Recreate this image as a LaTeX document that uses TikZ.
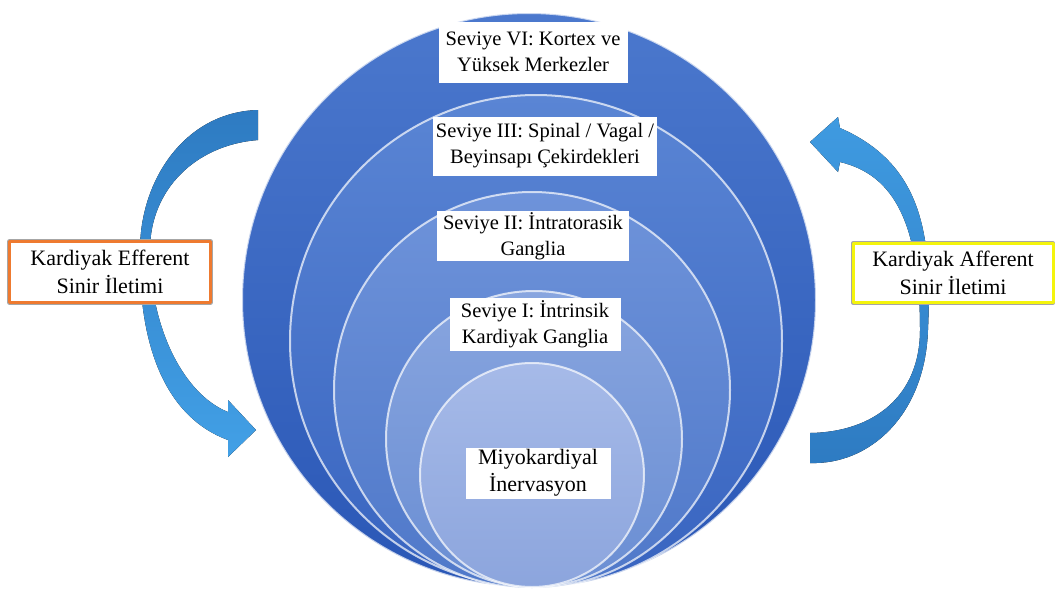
\documentclass[tikz,border=0pt]{standalone}
\usepackage{fontspec}
\setmainfont{Liberation Serif}
\definecolor{ringonetop}{HTML}{4B78CD}
\definecolor{ringonebot}{HTML}{2A57B6}
\definecolor{ringtwotop}{HTML}{5A85D4}
\definecolor{ringtwobot}{HTML}{3864C0}
\definecolor{ringthreetop}{HTML}{6E93DA}
\definecolor{ringthreebot}{HTML}{4F78C9}
\definecolor{ringfourtop}{HTML}{88A5DF}
\definecolor{ringfourbot}{HTML}{6A8ED3}
\definecolor{ringfivetop}{HTML}{A6BAE8}
\definecolor{ringfivebot}{HTML}{8CA5DD}
\definecolor{arrowdark}{HTML}{2E7BC2}
\definecolor{arrowlight}{HTML}{42A0E6}
\definecolor{efferentorange}{HTML}{EE7A30}
\definecolor{afferentyellow}{HTML}{F4F40C}
\begin{document}
\begin{tikzpicture}[x=1pt, y=-1pt, line join=round, line cap=round,
  ring/.style={draw=white, draw opacity=0.7, line width=2pt},
  levelbox/.style={fill=white, align=center, inner sep=0pt, font=\fontsize{20.5}{26}\selectfont},
  sidebox/.style={fill=white, align=center, inner sep=0pt, line width=3pt,
    preaction={draw=gray!70, line width=4.5pt}, font=\fontsize{22}{28}\selectfont}]
\useasboundingbox (0,0) rectangle (1055,590);
% nested circles, all touching at the bottom
\path[ring, top color=ringonetop, bottom color=ringonebot] (529,300) circle (287pt);
\path[ring, top color=ringtwotop, bottom color=ringtwobot] (536,341) circle (246pt);
\path[ring, top color=ringthreetop, bottom color=ringthreebot] (532,390) circle (198pt);
\path[ring, top color=ringfourtop, bottom color=ringfourbot] (534,439) circle (148pt);
\path[ring, top color=ringfivetop, bottom color=ringfivebot] (532,475) circle (112pt);
% level labels
\node[levelbox, minimum width=189pt, minimum height=61pt] (kortex) at (533,52) {Seviye VI: Kortex ve\\Yüksek Merkezler};
\node[levelbox, minimum width=224pt, minimum height=59pt] (spinal) at (545,146) {Seviye III: Spinal / Vagal /\\Beyinsapı Çekirdekleri};
\node[levelbox, minimum width=192pt, minimum height=50pt] (intratorasik) at (533,236) {Seviye II: İntratorasik\\Ganglia};
\node[levelbox, minimum width=171pt, minimum height=53pt] (intrinsik) at (535,324) {Seviye I: İntrinsik\\Kardiyak Ganglia};
\node[levelbox, minimum width=145pt, minimum height=51pt, font=\fontsize{22}{27}\selectfont] (miyokard) at (538,473) {Miyokardiyal\\İnervasyon};
% curved arrows
\fill[top color=arrowdark, bottom color=arrowlight]
  (258,110) .. controls (185,112) and (140,180) .. (140,250)
  .. controls (138,350) and (168,418) .. (228,440) -- (228,457) -- (256,430) -- (228,400) -- (228,412)
  .. controls (185,395) and (150,330) .. (150,250)
  .. controls (150,190) and (195,145) .. (258,140) -- cycle;
\fill[top color=arrowlight!85!arrowdark, bottom color=arrowdark]
  (810,463) .. controls (870,465) and (925,415) .. (928,330)
  .. controls (932,240) and (925,165) .. (840,128) -- (838,117) -- (810,142) -- (838,172) -- (840,162)
  .. controls (895,175) and (920,225) .. (920,330)
  .. controls (920,395) and (875,432) .. (810,433) -- cycle;
% side labels
\node[sidebox, draw=efferentorange, minimum width=201pt, minimum height=61pt] (efferent) at (110,272) {Kardiyak Efferent\\Sinir İletimi};
\node[sidebox, draw=afferentyellow, minimum width=200pt, minimum height=59pt] (afferent) at (953,273) {Kardiyak Afferent\\Sinir İletimi};
\end{tikzpicture}
\end{document}
